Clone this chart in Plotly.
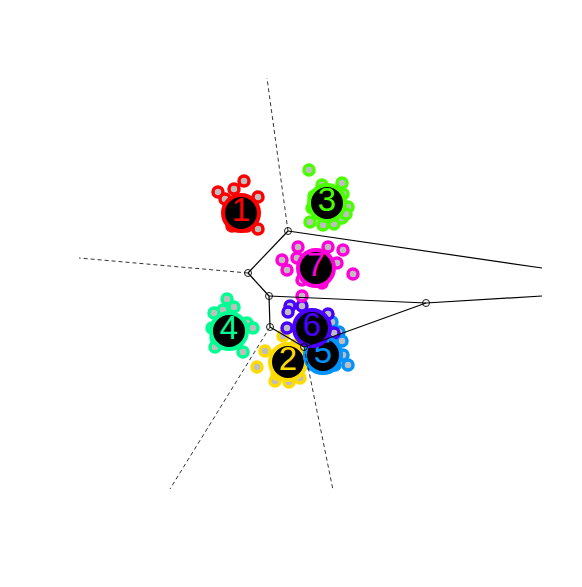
import plotly.graph_objects as go

# cluster colours (R rainbow(7))
colors = ['#FF0000', '#FFDB00', '#49FF00', '#00FF92', '#0092FF', '#4900FF', '#FF00DB']
labels = ['1', '2', '3', '4', '5', '6', '7']

# cluster centres
center_x = [241, 288, 327, 229, 323, 312, 316]
center_y = [213, 362, 203, 331, 355, 328, 268]

# member points of each cluster
pts_x = [
    [218, 234, 244, 258, 225, 258, 232, 247, 236, 229],
    [265, 257, 275, 289, 300, 283, 292, 296, 277],
    [309, 322, 342, 343, 348, 312, 310, 323, 334, 342, 346, 314],
    [227, 234, 223, 214, 247, 253, 215, 243, 212, 216],
    [332, 339, 342, 343, 348, 321, 311, 335],
    [290, 302, 288, 328, 287, 334, 313],
    [298, 328, 343, 282, 297, 337, 287, 353, 302, 322, 302],
]
pts_y = [
    [192, 189, 181, 197, 199, 229, 226, 226, 205, 214],
    [351, 367, 381, 382, 378, 336, 372, 345, 374],
    [170, 185, 183, 194, 207, 208, 222, 225, 224, 218, 214, 196],
    [299, 307, 310, 313, 323, 328, 347, 352, 328, 338],
    [322, 332, 341, 355, 365, 367, 364, 365],
    [306, 306, 312, 314, 328, 333, 343],
    [247, 247, 250, 260, 258, 263, 270, 274, 280, 283, 296],
]

# voronoi vertices
vert_x = [288, 248, 269, 270, 426, 304]
vert_y = [231, 273, 296, 327, 303, 347]

# finite edges (vertex index pairs) and open edges to far points
solid_edges = [(0, 1), (1, 2), (2, 4), (2, 3), (3, 5), (5, 4)]
ray_solid = [(0, 542, 268), (4, 542, 296)]
ray_dashed = [(0, 267, 78), (1, 79, 258), (3, 170, 489), (5, 333, 490)]

fig = go.Figure()

for i in range(len(labels)):
    fig.add_trace(go.Scatter(
        x=pts_x[i], y=pts_y[i], mode='markers',
        marker=dict(size=10, color='#BEBEBE', line=dict(color=colors[i], width=3.5)),
        showlegend=False, hoverinfo='skip'))

for i in range(len(labels)):
    fig.add_trace(go.Scatter(
        x=[center_x[i]], y=[center_y[i]], mode='markers+text',
        marker=dict(size=36, color='black', line=dict(color=colors[i], width=4)),
        text=[labels[i]], textposition='middle center',
        textfont=dict(family='Liberation Sans, Arial', size=33, color=colors[i]),
        showlegend=False, hoverinfo='skip'))

sx, sy = [], []
for a, b in solid_edges:
    sx += [vert_x[a], vert_x[b], None]
    sy += [vert_y[a], vert_y[b], None]
for a, ex, ey in ray_solid:
    sx += [vert_x[a], ex, None]
    sy += [vert_y[a], ey, None]
fig.add_trace(go.Scatter(x=sx, y=sy, mode='lines', line=dict(color='black', width=1.2),
                         showlegend=False, hoverinfo='skip'))

dx, dy = [], []
for a, ex, ey in ray_dashed:
    dx += [vert_x[a], ex, None]
    dy += [vert_y[a], ey, None]
fig.add_trace(go.Scatter(x=dx, y=dy, mode='lines', line=dict(color='black', width=0.8, dash='4px,3px'),
                         showlegend=False, hoverinfo='skip'))

fig.add_trace(go.Scatter(
    x=vert_x, y=vert_y, mode='markers',
    marker=dict(size=7, color='rgba(0,0,0,0)', line=dict(color='black', width=0.9)),
    showlegend=False, hoverinfo='skip'))

# page body has an 8px margin, so shift the visible window by that much
fig.update_layout(
    width=582, height=587,
    margin=dict(l=0, r=0, t=0, b=0),
    paper_bgcolor='white', plot_bgcolor='white',
    xaxis=dict(range=[8, 590], visible=False),
    yaxis=dict(range=[595, 8], visible=False),
)

fig.write_html("out.html")
